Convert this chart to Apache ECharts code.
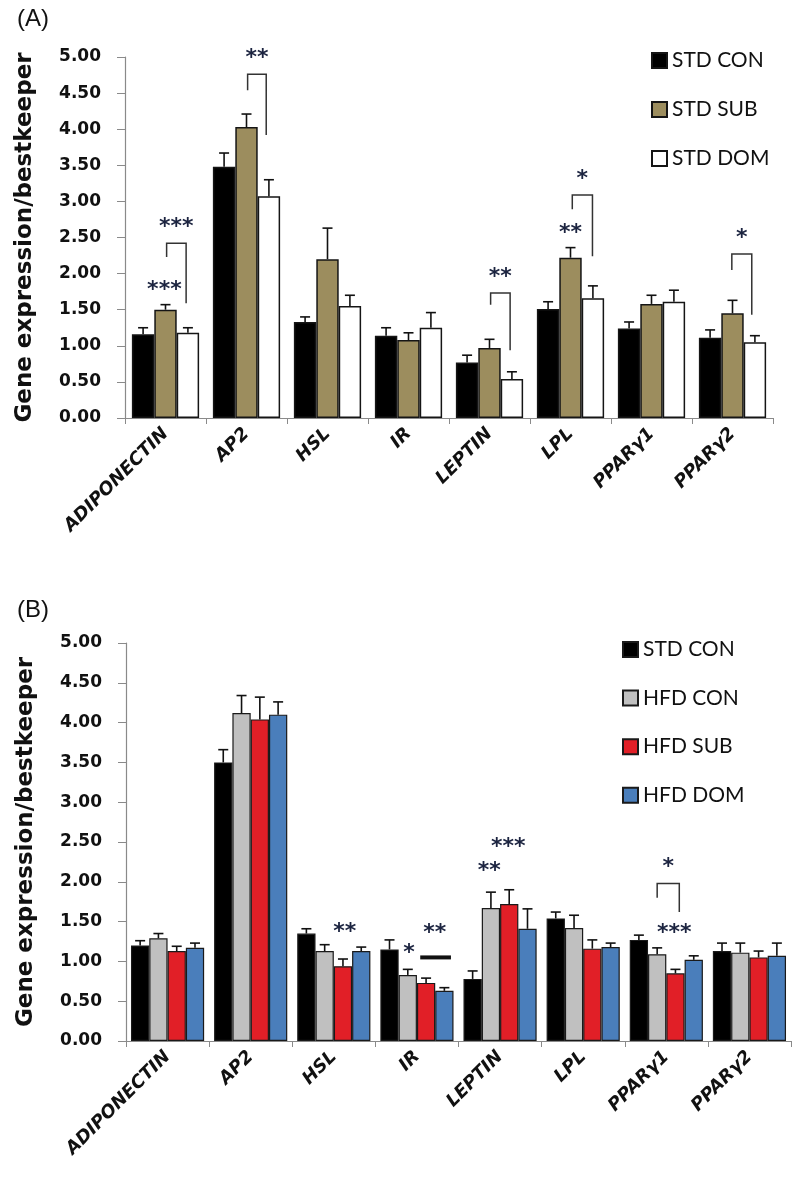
<!DOCTYPE html>
<html><head><meta charset="utf-8">
<script src="https://cdn.jsdelivr.net/npm/echarts@6/dist/echarts.min.js"></script>
<style>html,body{margin:0;padding:0;background:#fff;} #a,#b{width:800px;height:590px;}</style>
</head><body><div id="a"></div><div id="b"></div>
<script>
// ---------- data ----------
const categories = ['ADIPONECTIN','AP2','HSL','IR','LEPTIN','LPL','PPARγ1','PPARγ2'];

// Panel A
const namesA = ['STD CON','STD SUB','STD DOM'];
const stdConA    = [1.16, 3.48, 1.33, 1.14, 0.77, 1.51, 1.24, 1.11];
const stdConErrA = [0.09, 0.19, 0.07, 0.11, 0.10, 0.10, 0.09, 0.11];
const stdSubA    = [1.50, 4.03, 2.20, 1.08, 0.97, 2.22, 1.58, 1.45];
const stdSubErrA = [0.07, 0.18, 0.43, 0.10, 0.12, 0.14, 0.12, 0.18];
const stdDomA    = [1.18, 3.07, 1.55, 1.25, 0.54, 1.66, 1.61, 1.05];
const stdDomErrA = [0.07, 0.23, 0.15, 0.21, 0.10, 0.17, 0.16, 0.09];

// Panel B
const namesB = ['STD CON','HFD CON','HFD SUB','HFD DOM'];
const stdConB    = [1.20, 3.50, 1.35, 1.15, 0.78, 1.54, 1.27, 1.13];
const stdConErrB = [0.06, 0.16, 0.06, 0.12, 0.10, 0.08, 0.06, 0.10];
const hfdConB    = [1.29, 4.12, 1.13, 0.83, 1.67, 1.42, 1.09, 1.11];
const hfdConErrB = [0.06, 0.22, 0.08, 0.07, 0.20, 0.16, 0.08, 0.12];
const hfdSubB    = [1.13, 4.04, 0.94, 0.73, 1.72, 1.16, 0.85, 1.05];
const hfdSubErrB = [0.06, 0.28, 0.09, 0.06, 0.18, 0.11, 0.05, 0.08];
const hfdDomB    = [1.17, 4.10, 1.13, 0.63, 1.41, 1.18, 1.02, 1.07];
const hfdDomErrB = [0.06, 0.16, 0.05, 0.04, 0.25, 0.05, 0.05, 0.16];

// significance marks (category index, bar position, data values)
const marksA = [
  {kind:'star', cat:0, at:0.95, y:1.84, text:'***'},
  {kind:'bracket', cat:0, from:1.05, to:1.92, top:2.42, left:2.23, right:1.59, text:'***'},
  {kind:'bracket', cat:1, from:1.05, to:1.88, top:4.76, left:4.54, right:3.92, text:'**'},
  {kind:'bracket', cat:4, from:1.05, to:1.92, top:1.73, left:1.57, right:0.94, text:'**'},
  {kind:'star', cat:5, at:1.0, y:2.63, text:'**'},
  {kind:'bracket', cat:5, from:1.08, to:1.98, top:3.09, left:2.89, right:2.24, text:'*'},
  {kind:'bracket', cat:7, from:0.97, to:1.86, top:2.27, left:2.05, right:1.43, text:'*'}
];
const marksB = [
  {kind:'star', cat:2, at:2.1, y:1.43, text:'**'},
  {kind:'star', cat:3, at:1.07, y:1.17, text:'*'},
  {kind:'star', cat:3, at:2.48, y:1.41, text:'**'},
  {kind:'bar', cat:3, from:1.68, to:3.36, y:1.05},
  {kind:'star', cat:4, at:0.91, y:2.19, text:'**'},
  {kind:'star', cat:4, at:1.95, y:2.50, text:'***'},
  {kind:'bracket', cat:6, from:1.0, to:2.21, top:1.98, left:1.80, right:1.62, text:'*'},
  {kind:'star', cat:6, at:1.94, y:1.42, text:'***'}
];

// ---------- chart builder ----------
function build(el, cfg) {
  const n = cfg.values.length;
  const gap = cfg.gap;
  function barX(api, cat, pos) {
    const c = api.coord([cat, 0])[0];
    const band = api.size([1, 0])[0];
    const w = band * (1 - gap) / n;
    return c + (pos - (n - 1) / 2) * w;
  }
  const starStyle = {fill:'#1c2440', fontSize:22, fontWeight:'bold', fontFamily:'DejaVu Sans', align:'center', verticalAlign:'middle'};
  const series = [];
  cfg.values.forEach((vals, s) => {
    series.push({
      type:'bar', name:cfg.names[s], data:vals,
      barGap:'0%', barCategoryGap:(gap*100)+'%',
      itemStyle:{color:cfg.colors[s], borderColor:cfg.border, borderWidth:cfg.borderWidth},
      z:2
    });
  });
  cfg.values.forEach((vals, s) => {
    series.push({
      type:'custom', z:3, silent:true,
      data: vals.map((v, i) => [i, v, cfg.errs[s][i]]),
      renderItem: function (params, api) {
        const cat = api.value(0);
        const x = barX(api, cat, s);
        const y0 = api.coord([cat, api.value(1)])[1];
        const y1 = api.coord([cat, api.value(1) + api.value(2)])[1];
        const st = {stroke:'#111', lineWidth:1.6};
        return {type:'group', children:[
          {type:'line', shape:{x1:x, y1:y0, x2:x, y2:y1}, style:st},
          {type:'line', shape:{x1:x-5, y1:y1, x2:x+5, y2:y1}, style:st}
        ]};
      }
    });
  });
  series.push({
    type:'custom', z:4, silent:true,
    data: cfg.marks.map(m => [m.cat, 0]),
    renderItem: function (params, api) {
      const m = cfg.marks[params.dataIndex];
      const Y = v => api.coord([m.cat, v])[1];
      if (m.kind === 'star') {
        return {type:'text', style:Object.assign({text:m.text, x:barX(api, m.cat, m.at), y:Y(m.y) + 5}, starStyle)};
      }
      if (m.kind === 'bar') {
        return {type:'line', shape:{x1:barX(api, m.cat, m.from), y1:Y(m.y), x2:barX(api, m.cat, m.to), y2:Y(m.y)}, style:{stroke:'#111', lineWidth:4}};
      }
      const xl = barX(api, m.cat, m.from), xr = barX(api, m.cat, m.to), yt = Y(m.top);
      return {type:'group', children:[
        {type:'polyline', shape:{points:[[xl, Y(m.left)], [xl, yt], [xr, yt], [xr, Y(m.right)]]}, style:{stroke:'#333', lineWidth:1.5, fill:null}},
        {type:'text', style:Object.assign({text:m.text, x:(xl + xr) / 2, y:yt - 21 + 5}, starStyle)}
      ]};
    }
  });
  const chart = echarts.init(el, null, {renderer:'canvas'});
  chart.setOption({
    animation:false,
    backgroundColor:'#fff',
    title:{text:cfg.panel, left:12, top:cfg.panelTop, textStyle:{fontSize:24, fontWeight:'normal', fontFamily:'Liberation Sans', color:'#111'}},
    legend:{
      data:cfg.names, orient:'vertical', left:cfg.legendLeft, top:cfg.legendTop, padding:0,
      itemWidth:15, itemHeight:15, itemGap:cfg.legendGap, icon:'rect',
      textStyle:{fontSize:21, fontFamily:'Lato', color:'#111'}
    },
    grid:cfg.grid,
    xAxis:{
      type:'category', data:categories,
      axisLine:{lineStyle:{color:'#8a8a8a', width:1.2}},
      axisTick:{show:true, length:6, lineStyle:{color:'#8a8a8a'}},
      axisLabel:{rotate:45, interval:0, margin:13, fontSize:18, fontWeight:'bold', fontStyle:'italic', fontFamily:'DejaVu Sans', color:'#111'}
    },
    yAxis:{
      type:'value', min:0, max:5, interval:0.5,
      name:'Gene expression/bestkeeper', nameLocation:'middle', nameGap:88,
      nameTextStyle:{fontSize:23, fontWeight:'bold', fontFamily:'DejaVu Sans', color:'#111'},
      axisLine:{show:true, lineStyle:{color:'#8a8a8a', width:1.2}},
      axisTick:{show:true, length:8, lineStyle:{color:'#8a8a8a'}},
      splitLine:{show:false},
      axisLabel:{margin:24, fontSize:17, fontWeight:'bold', fontFamily:'DejaVu Sans', color:'#111', formatter:v => v.toFixed(2)}
    },
    series:series
  });
}

build(document.getElementById('a'), {
  panel:'(A)', panelTop:2,
  names:namesA,
  values:[stdConA, stdSubA, stdDomA],
  errs:[stdConErrA, stdSubErrA, stdDomErrA],
  colors:['#000000', '#9c8d5e', '#ffffff'],
  border:'#151515', borderWidth:1.5, gap:0.17,
  grid:{left:125, right:27, top:57, height:361},
  legendLeft:651, legendTop:50, legendGap:28,
  marks:marksA
});
build(document.getElementById('b'), {
  panel:'(B)', panelTop:3,
  names:namesB,
  values:[stdConB, hfdConB, hfdSubB, hfdDomB],
  errs:[stdConErrB, hfdConErrB, hfdSubErrB, hfdDomErrB],
  colors:['#000000', '#c0c0c0', '#e11f27', '#4a7ebb'],
  border:'#1a1a1a', borderWidth:1.2, gap:0.12,
  grid:{left:126, right:9, top:53, height:398},
  legendLeft:622, legendTop:49, legendGap:27.6,
  marks:marksB
});
</script>
</body></html>
